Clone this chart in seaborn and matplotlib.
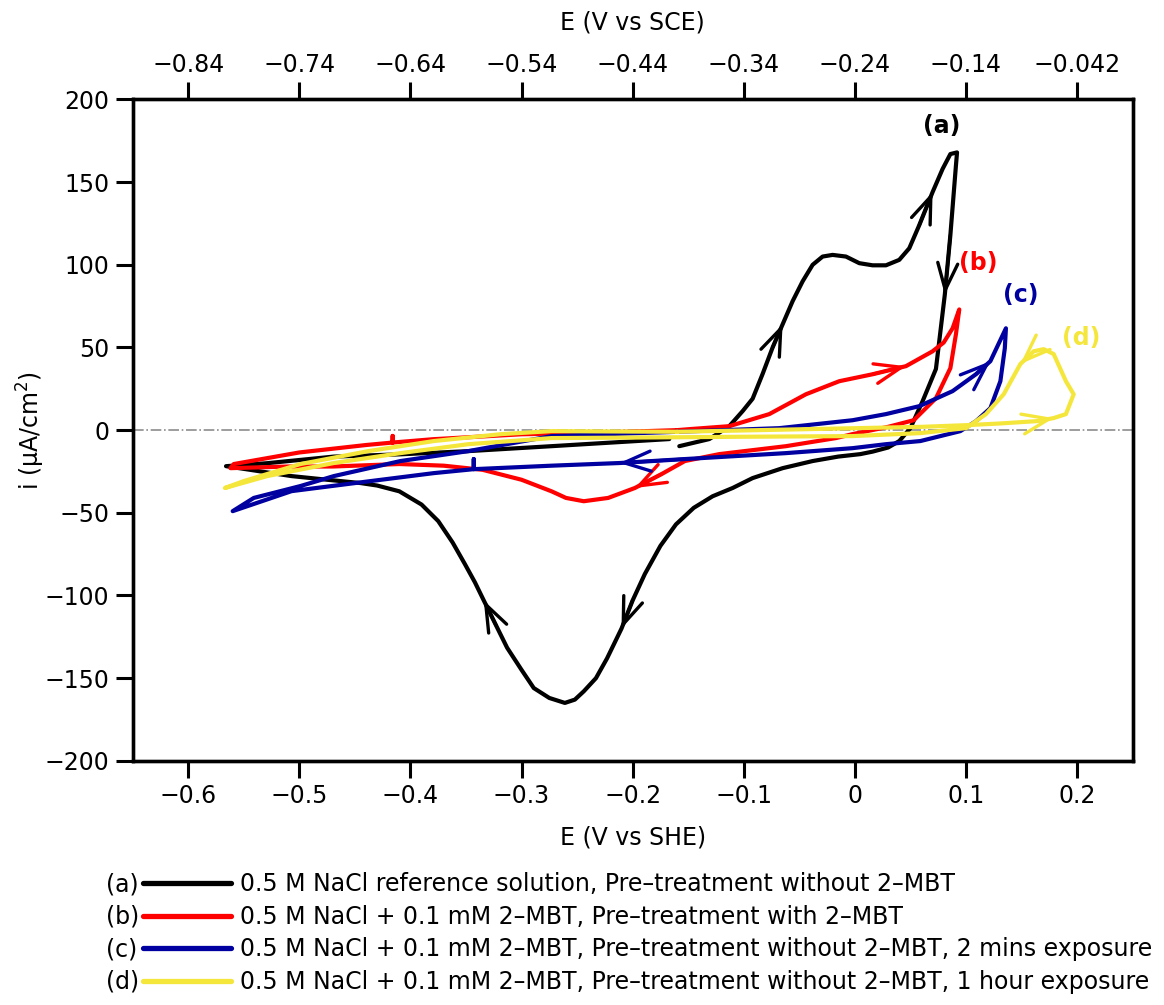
import numpy as np
import pandas as pd
import matplotlib
matplotlib.use("Agg")
import matplotlib.pyplot as plt
import seaborn as sns
from matplotlib.lines import Line2D

# Digitised cyclic voltammograms, E (V vs SHE) and i (uA/cm2), in scan order
E_a = [-0.158, -0.131, -0.113, -0.101, -0.092, -0.083, -0.074, -0.065, -0.056, -0.047, -0.038,
       -0.029, -0.020, -0.008, 0.004, 0.016, 0.028, 0.040, 0.049, 0.058, 0.070, 0.079, 0.086, 0.092,
       0.091, 0.086, 0.081, 0.073, 0.061, 0.050, 0.040, 0.030, 0.016, 0.005, -0.015, -0.038,
       -0.065, -0.092, -0.110, -0.128, -0.145, -0.161, -0.175, -0.189, -0.200, -0.210, -0.223,
       -0.233, -0.244, -0.252, -0.261, -0.275, -0.289, -0.300, -0.313, -0.323, -0.334, -0.342,
       -0.351, -0.362, -0.375, -0.390, -0.410, -0.430, -0.445, -0.475, -0.507, -0.566,
       -0.529, -0.469, -0.408, -0.348, -0.273, -0.167]
i_a = [-9.7, -5.4, 2.4, 11.5, 19, 34, 50, 64, 78, 90, 100,
       105, 106, 105, 101, 99.7, 99.7, 103, 110, 124, 144, 158, 167, 168,
       160, 118, 82, 37, 17.5, 1.2, -6.6, -10.5, -13, -14.5, -16, -18.7,
       -23, -29, -35, -40, -47, -57, -70, -87, -103, -120, -138,
       -150, -158, -163, -165, -162, -156, -145, -131.6, -118, -103, -92,
       -81, -68, -55, -45, -37, -33.5, -32, -30, -27.8, -21.8,
       -20, -16, -14.6, -12.7, -9.7, -5.4]

E_b = [-0.160, -0.149, -0.113, -0.077, -0.044, -0.014, 0.016, 0.046, 0.070, 0.080, 0.088, 0.094,
       0.091, 0.086, 0.073, 0.053, 0.030, -0.002, -0.017, -0.062, -0.122, -0.153, -0.174,
       -0.198, -0.222, -0.244, -0.260, -0.273, -0.300, -0.335, -0.370, -0.410, -0.470, -0.510,
       -0.562, -0.559, -0.500, -0.440, -0.416, -0.416, -0.416, -0.380, -0.300, -0.230, -0.160]
i_b = [0, 0.6, 2.4, 9.7, 21.7, 29.6, 33.8, 38.7, 47.7, 53, 61.6, 73,
       58, 37.5, 19.3, 6, 2, -2.4, -4.8, -9.7, -14.5, -18.7, -26.6,
       -35, -41, -43, -41, -37, -30, -24, -21.5, -20.5, -22, -22,
       -23, -20.5, -13.5, -9, -7.5, -3.5, -7.5, -5.5, -2.5, -1.5, 0]

E_c = [-0.160, -0.068, -0.002, 0.028, 0.058, 0.088, 0.109, 0.122, 0.136,
       0.135, 0.131, 0.122, 0.109, 0.095, 0.059, 0.028, -0.002, -0.062, -0.153, -0.212,
       -0.273, -0.343, -0.343, -0.343, -0.379, -0.438, -0.507, -0.560,
       -0.541, -0.499, -0.469, -0.409, -0.348, -0.273, -0.160]
i_c = [-1, 1.2, 6, 9.7, 14.5, 23.6, 33.8, 41.7, 61.6,
       49.5, 29.6, 13.3, 5.4, -0.6, -6.6, -8.5, -10.9, -13.9, -17.5, -19.9,
       -21.5, -23.6, -17.5, -23.6, -26, -31, -36.9, -49,
       -41, -33.8, -27.8, -18.7, -12.7, -3.6, -1]

E_d = [-0.160, -0.050, 0.060, 0.100, 0.130, 0.165, 0.179, 0.190, 0.197, 0.190, 0.179, 0.170,
       0.161, 0.149, 0.134, 0.118, 0.100, 0.059, -0.002, -0.100, -0.200, -0.273, -0.348,
       -0.409, -0.469, -0.529, -0.567,
       -0.550, -0.499, -0.438, -0.379, -0.318, -0.273, -0.160]
i_d = [-1, 0.5, 2, 3, 4, 5.5, 7.3, 9.7, 21.7, 29.6, 46, 49,
       47.7, 40, 21.7, 9.7, 1.2, -1.8, -3.6, -4, -4.5, -4.8, -8.5,
       -13.9, -19.9, -27.8, -35,
       -30.8, -20.5, -12.7, -6.6, -2.4, -0.6, -1]

curve_keys = ["(a)", "(b)", "(c)", "(d)"]
curve_desc = [
    "0.5 M NaCl reference solution, Pre\u2013treatment without 2\u2013MBT",
    "0.5 M NaCl + 0.1 mM 2\u2013MBT, Pre\u2013treatment with 2\u2013MBT",
    "0.5 M NaCl + 0.1 mM 2\u2013MBT, Pre\u2013treatment without 2\u2013MBT, 2 mins exposure",
    "0.5 M NaCl + 0.1 mM 2\u2013MBT, Pre\u2013treatment without 2\u2013MBT, 1 hour exposure",
]
colors = ["#000000", "#ff0000", "#0000a0", "#f5e63c"]
# index of the point each direction arrow points at
arrow_idx = [[7, 20, 26, 45, 56], [7, 23], [7, 19], [6, 13]]

she_ticks = [-0.6, -0.5, -0.4, -0.3, -0.2, -0.1, 0.0, 0.1, 0.2]
she_labels = ["\u22120.6", "\u22120.5", "\u22120.4", "\u22120.3", "\u22120.2",
              "\u22120.1", "0", "0.1", "0.2"]
sce_labels = ["\u22120.84", "\u22120.74", "\u22120.64", "\u22120.54", "\u22120.44",
              "\u22120.34", "\u22120.24", "\u22120.14", "\u22120.042"]
y_ticks = [200, 150, 100, 50, 0, -50, -100, -150, -200]

Es = [E_a, E_b, E_c, E_d]
Is = [i_a, i_b, i_c, i_d]
frames = []
for k, (e, i) in enumerate(zip(Es, Is)):
    frames.append(pd.DataFrame({"E": e, "i": i, "curve": curve_keys[k]}))
df = pd.concat(frames, ignore_index=True)

sns.set_style("white")
plt.rcParams["font.family"] = ["DejaVu Sans"]
for key in ["text.color", "axes.labelcolor", "xtick.color", "ytick.color"]:
    plt.rcParams[key] = "black"

fig = plt.figure(figsize=(11.64, 10.05), dpi=100)
ax = fig.add_axes([0.114, 0.243, 0.859, 0.658])

ax.axhline(0, color="#8c8c8c", ls="-.", lw=1.2, zorder=1)
sns.lineplot(data=df, x="E", y="i", hue="curve", units="curve", estimator=None,
             sort=False, palette=dict(zip(curve_keys, colors)), lw=3.0,
             legend=False, ax=ax, zorder=3)
for ln in ax.get_lines():
    ln.set_solid_joinstyle("round")
    ln.set_solid_capstyle("round")

# direction arrows along the curves
for k in range(4):
    for j in arrow_idx[k]:
        ax.annotate("", xy=(Es[k][j], Is[k][j]), xytext=(Es[k][j - 1], Is[k][j - 1]),
                    arrowprops=dict(arrowstyle="->,head_length=0.8,head_width=0.3",
                                    color=colors[k], lw=2.4, shrinkA=0, shrinkB=0,
                                    mutation_scale=24), zorder=4)

# curve labels near each anodic peak
label_pos = [(0.078, 184), (0.111, 101), (0.149, 82), (0.204, 56)]
for k in range(4):
    ax.text(label_pos[k][0], label_pos[k][1], curve_keys[k], color=colors[k],
            fontsize=17, fontweight="bold", ha="center", va="center")

ax.set_xlim(-0.65, 0.25)
ax.set_ylim(-200, 200)
ax.set_xticks(she_ticks)
ax.set_xticklabels(she_labels)
ax.set_yticks(y_ticks)
ax.set_xlabel("E (V vs SHE)", fontsize=17, labelpad=12)
ax.set_ylabel("i (\u03bcA/cm$^2$)", fontsize=17, labelpad=-2)
for s in ax.spines.values():
    s.set_linewidth(2.4)
    s.set_color("black")
ax.tick_params(axis="both", direction="out", length=12, width=2.2, labelsize=17,
               left=True, bottom=True, right=False, top=False, pad=5)

ax2 = ax.twiny()
ax2.set_xlim(ax.get_xlim())
ax2.set_xticks(she_ticks)
ax2.set_xticklabels(sce_labels)
ax2.set_xlabel("E (V vs SCE)", fontsize=17, labelpad=17)
ax2.tick_params(axis="x", direction="out", length=12, width=2.2, labelsize=17, pad=4)
for s in ax2.spines.values():
    s.set_linewidth(2.4)
    s.set_color("black")

# legend: key letters on the left, then line handles and descriptions
line_handles = [Line2D([], [], color=c, lw=3.8) for c in colors]
blank = [Line2D([], [], color="none") for _ in colors]
common = dict(frameon=False, loc="upper left", fontsize=17, labelspacing=0.36,
              borderpad=0, borderaxespad=0)
fig.legend(blank, curve_keys, bbox_to_anchor=(0.091, 0.132), handlelength=0,
           handletextpad=0, **common)
fig.legend(line_handles, curve_desc, bbox_to_anchor=(0.123, 0.132), handlelength=3.7,
           handletextpad=0.42, **common)

fig.savefig("out.png", dpi=100)
